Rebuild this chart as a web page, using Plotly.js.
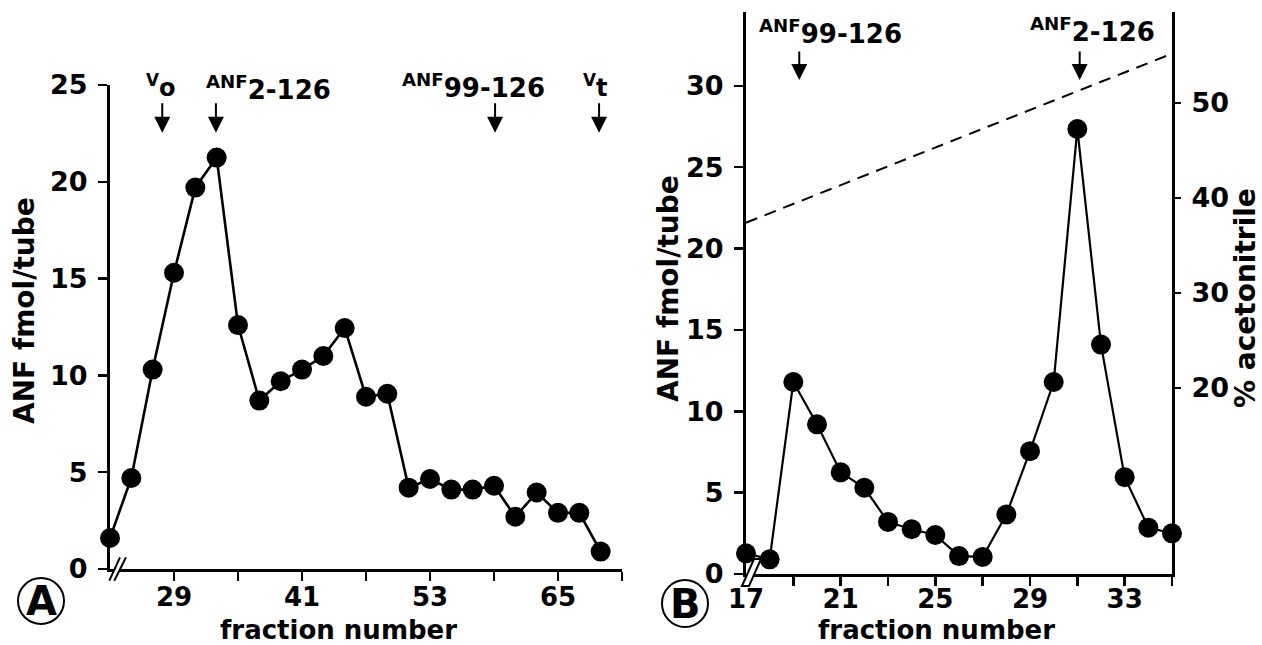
<!DOCTYPE html>
<html>
<head>
<meta charset="utf-8">
<script src="https://cdn.plot.ly/plotly-3.0.1.min.js"></script>
<style>
html,body{margin:0;padding:0;background:#fff;}
#chart{width:1262px;height:645px;}
</style>
</head>
<body>
<div id="chart"></div>
<script>
// ---- Panel A data (gel filtration) ----
const fractionsA = [23,25,27,29,31,33,35,37,39,41,43,45,47,49,51,53,55,57,59,61,63,65,67,69];
const anfA = [1.6,4.7,10.3,15.3,19.7,21.25,12.6,8.7,9.7,10.3,11.0,12.45,8.9,9.05,4.2,4.65,4.1,4.1,4.3,2.7,3.95,2.9,2.9,0.9];
const xTicksA = [29,35,41,47,53,59,65,71];
const xTickTextA = ['29','','41','','53','','65',''];
const yTicksA = [0,5,10,15,20,25];
const markLabelsA = ['<sup>V</sup>o','<sup>ANF</sup>2-126','<sup>ANF</sup>99-126','<sup>V</sup>t'];
const markFracA = [27.9,32.93,59.1,68.85];

// ---- Panel B data (HPLC) ----
const fractionsB = [17,18,19,20,21,22,23,24,25,26,27,28,29,30,31,32,33,34,35];
const anfB = [1.27,0.9,11.8,9.2,6.25,5.3,3.2,2.75,2.4,1.1,1.05,3.65,7.55,11.8,27.35,14.1,5.95,2.85,2.5];
const gradFracB = [17,35];
const acetonitrileB = [37.4,55.2];
const xTicksB = [17,19,21,23,25,27,29,31,33,35];
const xTickTextB = ['17','','21','','25','','29','','33',''];
const yTicksB = [0,5,10,15,20,25,30];
const yTicksAcn = [20,30,40,50];
const markLabelsB = ['<sup>ANF</sup>99-126','<sup>ANF</sup>2-126'];
const markFracB = [19.25,31.1];

const W = 1262, H = 645;
const P = px => px / W;
const Q = py => 1 - py / H;
const FONT = 'DejaVu Sans';
const bold = (s) => ({family: FONT, size: s, color: 'black', weight: 'bold'});

const axisCommon = {
  showline: true, linecolor: 'black', linewidth: 3,
  ticks: 'outside', ticklen: 9, tickwidth: 2.5, tickcolor: 'black',
  showgrid: false, zeroline: false, automargin: false, fixedrange: true,
  tickfont: bold(26)
};
const yAxisExtra = {ticklabelstandoff: 5, tickfont: bold(27)};

const traces = [
  {x: fractionsA, y: anfA, xaxis: 'x', yaxis: 'y', mode: 'lines+markers',
   line: {color: 'black', width: 2.6}, marker: {color: 'black', size: 20},
   cliponaxis: false, hoverinfo: 'skip'},
  {x: gradFracB, y: acetonitrileB, xaxis: 'x2', yaxis: 'y3', mode: 'lines',
   line: {color: 'black', width: 2, dash: '12px,8px'}, hoverinfo: 'skip'},
  {x: fractionsB, y: anfB, xaxis: 'x2', yaxis: 'y2', mode: 'lines+markers',
   line: {color: 'black', width: 2.2}, marker: {color: 'black', size: 20},
   cliponaxis: false, hoverinfo: 'skip'}
];

const annotations = [];
// arrows
const arrowTipA = 22.53, arrowTipB = 30.36;
markFracA.forEach(f => annotations.push({x: f, y: arrowTipA, xref: 'x', yref: 'y', text: '',
  showarrow: true, ax: 0, ay: -31, arrowhead: 2, arrowsize: 1.6, arrowwidth: 2, arrowcolor: 'black', standoff: 0}));
markFracB.forEach(f => annotations.push({x: f, y: arrowTipB, xref: 'x2', yref: 'y2', text: '',
  showarrow: true, ax: 0, ay: -30, arrowhead: 2, arrowsize: 1.6, arrowwidth: 2, arrowcolor: 'black', standoff: 0}));
// marker labels
const labPosA = [[161,86,24],[268,88,26],[473,86,26],[595,86,24]];
markLabelsA.forEach((t,i) => annotations.push({x: P(labPosA[i][0]), y: Q(labPosA[i][1]), xref: 'paper', yref: 'paper',
  text: t, showarrow: false, xanchor: 'center', yanchor: 'middle', font: bold(labPosA[i][2])}));
const labPosB = [[830,32],[1092,30]];
markLabelsB.forEach((t,i) => annotations.push({x: P(labPosB[i][0]), y: Q(labPosB[i][1]), xref: 'paper', yref: 'paper',
  text: t, showarrow: false, xanchor: 'center', yanchor: 'middle', font: bold(26)}));
// axis titles
const titles = [
  {t: 'ANF fmol/tube', x: 25, y: 311, a: -90, s: 28},
  {t: 'ANF fmol/tube', x: 669, y: 289, a: -90, s: 28},
  {t: 'fraction number', x: 338, y: 630, a: 0, s: 26},
  {t: 'fraction number', x: 936, y: 630, a: 0, s: 26},
  {t: '% acetonitrile', x: 1245, y: 298, a: -90, s: 28}
];
titles.forEach(o => annotations.push({x: P(o.x), y: Q(o.y), xref: 'paper', yref: 'paper', text: o.t,
  textangle: o.a, showarrow: false, xanchor: 'center', yanchor: 'middle', borderpad: 0, font: bold(o.s)}));
// panel letters
annotations.push({x: P(41), y: Q(601), xref: 'paper', yref: 'paper', text: 'A', showarrow: false,
  xanchor: 'center', yanchor: 'middle', font: bold(40)});
annotations.push({x: P(685), y: Q(603.5), xref: 'paper', yref: 'paper', text: 'B', showarrow: false,
  xanchor: 'center', yanchor: 'middle', font: bold(40)});

const pathPx = pts => pts.map((p,i) => (i ? 'L' : 'M') + P(p[0]).toFixed(5) + ',' + Q(p[1]).toFixed(5)).join(' ') + ' Z';
const linePx = (x0,y0,x1,y1) => ({type: 'line', xref: 'paper', yref: 'paper', x0: P(x0), y0: Q(y0), x1: P(x1), y1: Q(y1),
  line: {color: 'black', width: 2}});
const shapes = [
  // panel A axis break
  {type: 'path', xref: 'paper', yref: 'paper', path: pathPx([[111,578],[120.5,558],[125.5,558],[116,578]]),
   fillcolor: 'white', line: {width: 0}},
  linePx(109.3,580.7,120,557.3),
  linePx(114.3,580.7,126,557.3),
  // panel B axis break
  {type: 'path', xref: 'paper', yref: 'paper', path: pathPx([[742,586],[754,559],[761,559],[749,586]]),
   fillcolor: 'white', line: {color: 'black', width: 2}},
  // circles
  {type: 'circle', xref: 'paper', yref: 'paper', x0: P(18), x1: P(64), y0: Q(624), y1: Q(578), line: {color: 'black', width: 2}},
  {type: 'circle', xref: 'paper', yref: 'paper', x0: P(662), x1: P(708), y0: Q(627), y1: Q(580), line: {color: 'black', width: 2}}
];

const layout = {
  width: W, height: H, margin: {l: 0, r: 0, t: 0, b: 0},
  paper_bgcolor: 'white', plot_bgcolor: 'rgba(0,0,0,0)', showlegend: false,
  font: bold(26),
  xaxis: Object.assign({}, axisCommon, {ticklabelstandoff: -6, domain: [P(110), P(622)], range: [23, 71], anchor: 'y',
    tickmode: 'array', tickvals: xTicksA, ticktext: xTickTextA}),
  yaxis: Object.assign({}, axisCommon, yAxisExtra, {domain: [Q(569), Q(85)], range: [0, 25], anchor: 'x',
    tickmode: 'array', tickvals: yTicksA}),
  xaxis2: Object.assign({}, axisCommon, {ticklabelstandoff: -9, domain: [P(746), P(1172)], range: [17, 35], anchor: 'y2',
    tickmode: 'array', tickvals: xTicksB, ticktext: xTickTextB}),
  yaxis2: Object.assign({}, axisCommon, yAxisExtra, {domain: [Q(574), Q(12)], range: [0, 34.54], anchor: 'x2',
    tickmode: 'array', tickvals: yTicksB}),
  yaxis3: Object.assign({}, axisCommon, yAxisExtra, {overlaying: 'y2', side: 'right', anchor: 'x2', range: [0.42, 59.58],
    tickmode: 'array', tickvals: yTicksAcn, ticklen: 6}),
  annotations: annotations,
  shapes: shapes
};

Plotly.newPlot('chart', traces, layout, {displayModeBar: false, staticPlot: true});
</script>
</body>
</html>
